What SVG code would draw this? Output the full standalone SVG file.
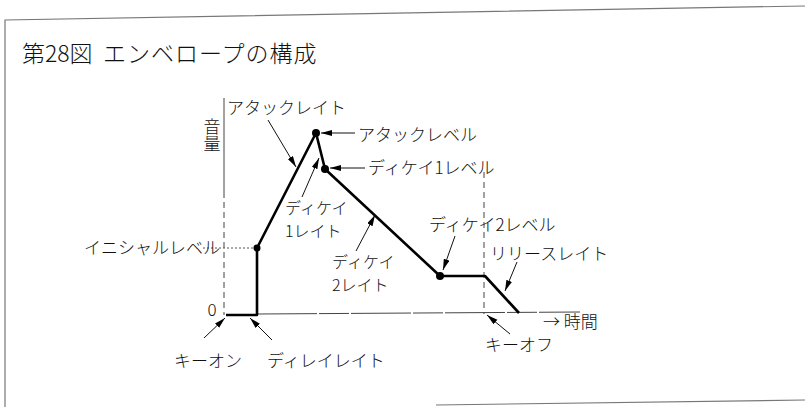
<svg xmlns="http://www.w3.org/2000/svg" width="805" height="407" viewBox="0 0 805 407">
<style>
text{font-family:"Noto Sans CJK JP","Noto Sans",sans-serif;fill:#111;font-size:17px;font-weight:300;dominant-baseline:central}
.title{font-size:23px}
.ml{font-size:16px}
.border{fill:none;stroke:#777;stroke-width:1.2}
.env{fill:none;stroke:#000;stroke-width:2.6;stroke-linejoin:round}
.thin{fill:none;stroke:#444;stroke-width:1}
.dash{fill:none;stroke:#444;stroke-width:1;stroke-dasharray:6 4}
.dot{fill:none;stroke:#555;stroke-width:1;stroke-dasharray:2 2}
.arr{fill:none;stroke:#111;stroke-width:1;marker-end:url(#ah)}
.pt{fill:#000}
</style>
<defs>
<marker id="ah" markerUnits="userSpaceOnUse" markerWidth="12" markerHeight="8" refX="11" refY="3" orient="auto">
<path d="M0,0 L11,3 L0,6 z" fill="#000"/>
</marker>
</defs>
<g id="frame">
<polyline class="border" points="5,407 5,20 805,6"/>
<line class="border" x1="436" y1="405" x2="805" y2="400"/>
</g>
<g id="title">
<text class="title" x="22" y="52">第28図</text>
<text class="title" x="103" y="52" letter-spacing="1">エンベロープの構成</text>
</g>
<g id="axes">
<line class="thin" x1="224" y1="98" x2="224" y2="192"/>
<line class="dash" x1="224" y1="192" x2="224" y2="315"/>
<line class="thin" x1="257" y1="314" x2="580" y2="312" stroke-dasharray="60 2 30 2"/>
<line class="dot" x1="203" y1="248" x2="255" y2="248"/>
<line class="dash" x1="484" y1="172" x2="484" y2="314"/>
<text id="y-label" x="212" y="118" writing-mode="vertical-rl" font-size="12" style="dominant-baseline:auto">音量</text>
<text id="zero" x="212" y="308" text-anchor="middle" font-size="16">0</text>
<text id="time" x="543" y="320">→ 時間</text>
</g>
<g id="envelope">
<polyline class="env" points="226,315 257,315 257,248 316,133 325,169 440,276 485,276 519,313"/>
<circle class="pt" cx="257" cy="248" r="3.5"/>
<circle class="pt" cx="316" cy="133" r="4"/>
<circle class="pt" cx="325" cy="169" r="4"/>
<circle class="pt" cx="440" cy="276" r="4"/>
</g>
<g id="connectors">
<line class="arr" x1="268" y1="120" x2="296" y2="167"/>
<line class="arr" x1="355" y1="133" x2="321" y2="133"/>
<line class="arr" x1="365" y1="168" x2="330" y2="168"/>
<line class="arr" x1="302" y1="197" x2="319" y2="158"/>
<line class="arr" x1="356" y1="251" x2="375" y2="215"/>
<line class="arr" x1="455" y1="236" x2="443" y2="270"/>
<line class="arr" x1="517" y1="262" x2="505" y2="291"/>
<line class="arr" x1="510" y1="334" x2="487" y2="315"/>
<line class="arr" x1="204" y1="338" x2="225" y2="318"/>
<line class="arr" x1="272" y1="340" x2="250" y2="318"/>
</g>
<g id="attack-rate"><text x="227" y="106">アタックレイト</text></g>
<g id="attack-level"><text x="358" y="133">アタックレベル</text></g>
<g id="decay1-level"><text x="368" y="166">ディケイ1レベル</text></g>
<g id="initial-level"><text x="220" y="246" text-anchor="end">イニシャルレベル</text></g>
<g id="decay1-rate"><text class="ml" x="285" y="207">ディケイ</text><text class="ml" x="285" y="230">1レイト</text></g>
<g id="decay2-rate"><text class="ml" x="332" y="261">ディケイ</text><text class="ml" x="332" y="284">2レイト</text></g>
<g id="decay2-level"><text x="429" y="223">ディケイ2レベル</text></g>
<g id="release-rate"><text x="490" y="252">リリースレイト</text></g>
<g id="key-off"><text x="485" y="343">キーオフ</text></g>
<g id="key-on"><text x="174" y="359">キーオン</text></g>
<g id="delay-rate"><text x="267" y="359">ディレイレイト</text></g>
</svg>
